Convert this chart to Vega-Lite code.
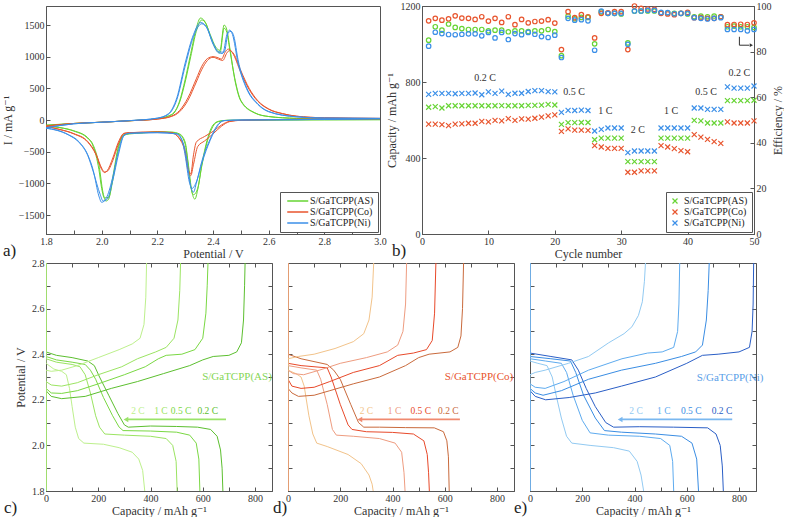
{
"$schema": "https://vega.github.io/schema/vega-lite/v6.json",
"background": "white",
"padding": {"left": 0, "top": 0, "right": 0, "bottom": 0},
"spacing": -3,
"config": {
 "font": "Liberation Serif, Times New Roman, DejaVu Serif, serif",
 "view": {"stroke": "#555", "strokeWidth": 1},
 "axis": {"labelFont": "Liberation Serif, Times New Roman, DejaVu Serif, serif", "titleFont": "Liberation Serif, Times New Roman, DejaVu Serif, serif", "labelFontSize": 10, "titleFontSize": 12, "titleFontWeight": "normal", "labelColor": "#333", "titleColor": "#333", "domainColor": "#555", "tickColor": "#555", "grid": false, "tickSize": -4, "labelPadding": 6, "labelFlush": false, "labelOverlap": false},
 "title": {"font": "Liberation Serif, Times New Roman, DejaVu Serif, serif", "fontSize": 17, "fontWeight": "normal", "color": "#222"},
 "legend": {"labelFont": "Liberation Serif, Times New Roman, DejaVu Serif, serif"},
 "text": {"font": "Liberation Serif, Times New Roman, DejaVu Serif, serif"}
},
"resolve": {"scale": {"color": "independent"}, "legend": {"color": "independent"}},
"datasets": {
 "cv": [
{"m":"AS","k":"1u","V":1.8,"I":-80},{"m":"AS","k":"1u","V":1.9,"I":-55},{"m":"AS","k":"1u","V":2.0,"I":-35},{"m":"AS","k":"1u","V":2.1,"I":-12},{"m":"AS","k":"1u","V":2.15,"I":0},{"m":"AS","k":"1u","V":2.2,"I":20},{"m":"AS","k":"1u","V":2.24,"I":60},{"m":"AS","k":"1u","V":2.26,"I":110},{"m":"AS","k":"1u","V":2.28,"I":300},{"m":"AS","k":"1u","V":2.3,"I":640},{"m":"AS","k":"1u","V":2.32,"I":1050},{"m":"AS","k":"1u","V":2.34,"I":1450},{"m":"AS","k":"1u","V":2.355,"I":1610},{"m":"AS","k":"1u","V":2.37,"I":1560},{"m":"AS","k":"1u","V":2.39,"I":1350},{"m":"AS","k":"1u","V":2.41,"I":1150},{"m":"AS","k":"1u","V":2.425,"I":1100},{"m":"AS","k":"1u","V":2.44,"I":1500},{"m":"AS","k":"1u","V":2.45,"I":1420},{"m":"AS","k":"1u","V":2.46,"I":1150},{"m":"AS","k":"1u","V":2.48,"I":600},{"m":"AS","k":"1u","V":2.5,"I":300},{"m":"AS","k":"1u","V":2.55,"I":110},{"m":"AS","k":"1u","V":2.6,"I":55},{"m":"AS","k":"1u","V":2.7,"I":25},{"m":"AS","k":"1u","V":2.8,"I":15},{"m":"AS","k":"1u","V":3.0,"I":10},
{"m":"AS","k":"1d","V":3.0,"I":5},{"m":"AS","k":"1d","V":2.8,"I":3},{"m":"AS","k":"1d","V":2.6,"I":0},{"m":"AS","k":"1d","V":2.45,"I":-5},{"m":"AS","k":"1d","V":2.42,"I":-20},{"m":"AS","k":"1d","V":2.4,"I":-80},{"m":"AS","k":"1d","V":2.38,"I":-300},{"m":"AS","k":"1d","V":2.36,"I":-700},{"m":"AS","k":"1d","V":2.345,"I":-1100},{"m":"AS","k":"1d","V":2.335,"I":-1250},{"m":"AS","k":"1d","V":2.325,"I":-1150},{"m":"AS","k":"1d","V":2.31,"I":-650},{"m":"AS","k":"1d","V":2.3,"I":-350},{"m":"AS","k":"1d","V":2.28,"I":-220},{"m":"AS","k":"1d","V":2.25,"I":-190},{"m":"AS","k":"1d","V":2.2,"I":-185},{"m":"AS","k":"1d","V":2.15,"I":-200},{"m":"AS","k":"1d","V":2.1,"I":-215},{"m":"AS","k":"1d","V":2.08,"I":-230},{"m":"AS","k":"1d","V":2.06,"I":-420},{"m":"AS","k":"1d","V":2.04,"I":-900},{"m":"AS","k":"1d","V":2.025,"I":-1250},{"m":"AS","k":"1d","V":2.015,"I":-1280},{"m":"AS","k":"1d","V":2.005,"I":-1150},{"m":"AS","k":"1d","V":1.99,"I":-700},{"m":"AS","k":"1d","V":1.97,"I":-400},{"m":"AS","k":"1d","V":1.95,"I":-280},{"m":"AS","k":"1d","V":1.9,"I":-170},{"m":"AS","k":"1d","V":1.85,"I":-120},{"m":"AS","k":"1d","V":1.8,"I":-90},
{"m":"AS","k":"2u","V":1.8,"I":-85},{"m":"AS","k":"2u","V":1.9,"I":-55},{"m":"AS","k":"2u","V":2.0,"I":-35},{"m":"AS","k":"2u","V":2.1,"I":-12},{"m":"AS","k":"2u","V":2.15,"I":0},{"m":"AS","k":"2u","V":2.2,"I":22},{"m":"AS","k":"2u","V":2.24,"I":65},{"m":"AS","k":"2u","V":2.26,"I":120},{"m":"AS","k":"2u","V":2.28,"I":280},{"m":"AS","k":"2u","V":2.3,"I":600},{"m":"AS","k":"2u","V":2.32,"I":1000},{"m":"AS","k":"2u","V":2.34,"I":1400},{"m":"AS","k":"2u","V":2.36,"I":1580},{"m":"AS","k":"2u","V":2.375,"I":1520},{"m":"AS","k":"2u","V":2.39,"I":1330},{"m":"AS","k":"2u","V":2.41,"I":1120},{"m":"AS","k":"2u","V":2.425,"I":1060},{"m":"AS","k":"2u","V":2.44,"I":1450},{"m":"AS","k":"2u","V":2.45,"I":1380},{"m":"AS","k":"2u","V":2.46,"I":1120},{"m":"AS","k":"2u","V":2.48,"I":620},{"m":"AS","k":"2u","V":2.5,"I":310},{"m":"AS","k":"2u","V":2.55,"I":115},{"m":"AS","k":"2u","V":2.6,"I":55},{"m":"AS","k":"2u","V":2.7,"I":25},{"m":"AS","k":"2u","V":2.8,"I":15},{"m":"AS","k":"2u","V":3.0,"I":10},
{"m":"AS","k":"2d","V":3.0,"I":5},{"m":"AS","k":"2d","V":2.8,"I":3},{"m":"AS","k":"2d","V":2.6,"I":0},{"m":"AS","k":"2d","V":2.45,"I":-5},{"m":"AS","k":"2d","V":2.42,"I":-25},{"m":"AS","k":"2d","V":2.4,"I":-100},{"m":"AS","k":"2d","V":2.38,"I":-330},{"m":"AS","k":"2d","V":2.36,"I":-720},{"m":"AS","k":"2d","V":2.345,"I":-1080},{"m":"AS","k":"2d","V":2.33,"I":-1180},{"m":"AS","k":"2d","V":2.32,"I":-1050},{"m":"AS","k":"2d","V":2.31,"I":-680},{"m":"AS","k":"2d","V":2.3,"I":-380},{"m":"AS","k":"2d","V":2.28,"I":-230},{"m":"AS","k":"2d","V":2.25,"I":-195},{"m":"AS","k":"2d","V":2.2,"I":-190},{"m":"AS","k":"2d","V":2.15,"I":-205},{"m":"AS","k":"2d","V":2.1,"I":-220},{"m":"AS","k":"2d","V":2.08,"I":-240},{"m":"AS","k":"2d","V":2.06,"I":-450},{"m":"AS","k":"2d","V":2.04,"I":-950},{"m":"AS","k":"2d","V":2.025,"I":-1220},{"m":"AS","k":"2d","V":2.01,"I":-1230},{"m":"AS","k":"2d","V":2.0,"I":-1080},{"m":"AS","k":"2d","V":1.99,"I":-780},{"m":"AS","k":"2d","V":1.97,"I":-420},{"m":"AS","k":"2d","V":1.95,"I":-290},{"m":"AS","k":"2d","V":1.9,"I":-175},{"m":"AS","k":"2d","V":1.85,"I":-120},{"m":"AS","k":"2d","V":1.8,"I":-90},
{"m":"Co","k":"1u","V":1.8,"I":-95},{"m":"Co","k":"1u","V":1.9,"I":-55},{"m":"Co","k":"1u","V":2.0,"I":-35},{"m":"Co","k":"1u","V":2.1,"I":-12},{"m":"Co","k":"1u","V":2.2,"I":15},{"m":"Co","k":"1u","V":2.25,"I":60},{"m":"Co","k":"1u","V":2.28,"I":150},{"m":"Co","k":"1u","V":2.31,"I":350},{"m":"Co","k":"1u","V":2.34,"I":650},{"m":"Co","k":"1u","V":2.36,"I":850},{"m":"Co","k":"1u","V":2.38,"I":970},{"m":"Co","k":"1u","V":2.4,"I":1000},{"m":"Co","k":"1u","V":2.42,"I":980},{"m":"Co","k":"1u","V":2.43,"I":960},{"m":"Co","k":"1u","V":2.445,"I":1080},{"m":"Co","k":"1u","V":2.455,"I":1120},{"m":"Co","k":"1u","V":2.47,"I":1060},{"m":"Co","k":"1u","V":2.5,"I":750},{"m":"Co","k":"1u","V":2.53,"I":480},{"m":"Co","k":"1u","V":2.56,"I":300},{"m":"Co","k":"1u","V":2.6,"I":170},{"m":"Co","k":"1u","V":2.65,"I":100},{"m":"Co","k":"1u","V":2.7,"I":60},{"m":"Co","k":"1u","V":2.8,"I":35},{"m":"Co","k":"1u","V":3.0,"I":25},
{"m":"Co","k":"1d","V":3.0,"I":20},{"m":"Co","k":"1d","V":2.6,"I":5},{"m":"Co","k":"1d","V":2.5,"I":-5},{"m":"Co","k":"1d","V":2.46,"I":-20},{"m":"Co","k":"1d","V":2.43,"I":-80},{"m":"Co","k":"1d","V":2.4,"I":-180},{"m":"Co","k":"1d","V":2.37,"I":-260},{"m":"Co","k":"1d","V":2.34,"I":-350},{"m":"Co","k":"1d","V":2.33,"I":-550},{"m":"Co","k":"1d","V":2.32,"I":-850},{"m":"Co","k":"1d","V":2.31,"I":-780},{"m":"Co","k":"1d","V":2.3,"I":-520},{"m":"Co","k":"1d","V":2.28,"I":-300},{"m":"Co","k":"1d","V":2.25,"I":-200},{"m":"Co","k":"1d","V":2.2,"I":-190},{"m":"Co","k":"1d","V":2.1,"I":-200},{"m":"Co","k":"1d","V":2.08,"I":-210},{"m":"Co","k":"1d","V":2.06,"I":-350},{"m":"Co","k":"1d","V":2.04,"I":-600},{"m":"Co","k":"1d","V":2.02,"I":-800},{"m":"Co","k":"1d","V":2.01,"I":-830},{"m":"Co","k":"1d","V":2.0,"I":-780},{"m":"Co","k":"1d","V":1.98,"I":-550},{"m":"Co","k":"1d","V":1.95,"I":-350},{"m":"Co","k":"1d","V":1.9,"I":-220},{"m":"Co","k":"1d","V":1.85,"I":-150},{"m":"Co","k":"1d","V":1.8,"I":-100},
{"m":"Co","k":"2u","V":1.8,"I":-95},{"m":"Co","k":"2u","V":1.9,"I":-55},{"m":"Co","k":"2u","V":2.0,"I":-35},{"m":"Co","k":"2u","V":2.1,"I":-12},{"m":"Co","k":"2u","V":2.2,"I":15},{"m":"Co","k":"2u","V":2.25,"I":55},{"m":"Co","k":"2u","V":2.28,"I":130},{"m":"Co","k":"2u","V":2.31,"I":310},{"m":"Co","k":"2u","V":2.34,"I":600},{"m":"Co","k":"2u","V":2.36,"I":800},{"m":"Co","k":"2u","V":2.38,"I":940},{"m":"Co","k":"2u","V":2.4,"I":990},{"m":"Co","k":"2u","V":2.42,"I":960},{"m":"Co","k":"2u","V":2.435,"I":940},{"m":"Co","k":"2u","V":2.45,"I":1060},{"m":"Co","k":"2u","V":2.46,"I":1100},{"m":"Co","k":"2u","V":2.475,"I":1040},{"m":"Co","k":"2u","V":2.5,"I":780},{"m":"Co","k":"2u","V":2.53,"I":500},{"m":"Co","k":"2u","V":2.56,"I":310},{"m":"Co","k":"2u","V":2.6,"I":175},{"m":"Co","k":"2u","V":2.65,"I":100},{"m":"Co","k":"2u","V":2.7,"I":60},{"m":"Co","k":"2u","V":2.8,"I":35},{"m":"Co","k":"2u","V":3.0,"I":25},
{"m":"Co","k":"2d","V":3.0,"I":20},{"m":"Co","k":"2d","V":2.6,"I":5},{"m":"Co","k":"2d","V":2.5,"I":-5},{"m":"Co","k":"2d","V":2.46,"I":-25},{"m":"Co","k":"2d","V":2.43,"I":-100},{"m":"Co","k":"2d","V":2.4,"I":-220},{"m":"Co","k":"2d","V":2.37,"I":-330},{"m":"Co","k":"2d","V":2.345,"I":-420},{"m":"Co","k":"2d","V":2.33,"I":-700},{"m":"Co","k":"2d","V":2.32,"I":-880},{"m":"Co","k":"2d","V":2.31,"I":-760},{"m":"Co","k":"2d","V":2.3,"I":-480},{"m":"Co","k":"2d","V":2.28,"I":-290},{"m":"Co","k":"2d","V":2.25,"I":-200},{"m":"Co","k":"2d","V":2.2,"I":-190},{"m":"Co","k":"2d","V":2.1,"I":-200},{"m":"Co","k":"2d","V":2.08,"I":-215},{"m":"Co","k":"2d","V":2.06,"I":-380},{"m":"Co","k":"2d","V":2.04,"I":-640},{"m":"Co","k":"2d","V":2.02,"I":-810},{"m":"Co","k":"2d","V":2.01,"I":-820},{"m":"Co","k":"2d","V":2.0,"I":-760},{"m":"Co","k":"2d","V":1.98,"I":-540},{"m":"Co","k":"2d","V":1.95,"I":-340},{"m":"Co","k":"2d","V":1.9,"I":-215},{"m":"Co","k":"2d","V":1.85,"I":-150},{"m":"Co","k":"2d","V":1.8,"I":-100},
{"m":"Ni","k":"1u","V":1.8,"I":-120},{"m":"Ni","k":"1u","V":1.9,"I":-60},{"m":"Ni","k":"1u","V":2.0,"I":-35},{"m":"Ni","k":"1u","V":2.1,"I":-10},{"m":"Ni","k":"1u","V":2.2,"I":30},{"m":"Ni","k":"1u","V":2.24,"I":100},{"m":"Ni","k":"1u","V":2.27,"I":350},{"m":"Ni","k":"1u","V":2.3,"I":900},{"m":"Ni","k":"1u","V":2.33,"I":1350},{"m":"Ni","k":"1u","V":2.355,"I":1540},{"m":"Ni","k":"1u","V":2.375,"I":1480},{"m":"Ni","k":"1u","V":2.4,"I":1200},{"m":"Ni","k":"1u","V":2.42,"I":1060},{"m":"Ni","k":"1u","V":2.435,"I":1050},{"m":"Ni","k":"1u","V":2.45,"I":1350},{"m":"Ni","k":"1u","V":2.46,"I":1420},{"m":"Ni","k":"1u","V":2.47,"I":1350},{"m":"Ni","k":"1u","V":2.49,"I":900},{"m":"Ni","k":"1u","V":2.52,"I":500},{"m":"Ni","k":"1u","V":2.56,"I":250},{"m":"Ni","k":"1u","V":2.6,"I":130},{"m":"Ni","k":"1u","V":2.7,"I":50},{"m":"Ni","k":"1u","V":2.8,"I":30},{"m":"Ni","k":"1u","V":3.0,"I":25},
{"m":"Ni","k":"1d","V":3.0,"I":20},{"m":"Ni","k":"1d","V":2.7,"I":5},{"m":"Ni","k":"1d","V":2.5,"I":0},{"m":"Ni","k":"1d","V":2.44,"I":-10},{"m":"Ni","k":"1d","V":2.42,"I":-60},{"m":"Ni","k":"1d","V":2.39,"I":-300},{"m":"Ni","k":"1d","V":2.36,"I":-650},{"m":"Ni","k":"1d","V":2.34,"I":-1000},{"m":"Ni","k":"1d","V":2.33,"I":-1140},{"m":"Ni","k":"1d","V":2.32,"I":-1050},{"m":"Ni","k":"1d","V":2.305,"I":-600},{"m":"Ni","k":"1d","V":2.29,"I":-330},{"m":"Ni","k":"1d","V":2.27,"I":-220},{"m":"Ni","k":"1d","V":2.2,"I":-200},{"m":"Ni","k":"1d","V":2.1,"I":-210},{"m":"Ni","k":"1d","V":2.08,"I":-240},{"m":"Ni","k":"1d","V":2.06,"I":-500},{"m":"Ni","k":"1d","V":2.04,"I":-900},{"m":"Ni","k":"1d","V":2.02,"I":-1200},{"m":"Ni","k":"1d","V":2.0,"I":-1300},{"m":"Ni","k":"1d","V":1.99,"I":-1200},{"m":"Ni","k":"1d","V":1.97,"I":-800},{"m":"Ni","k":"1d","V":1.95,"I":-550},{"m":"Ni","k":"1d","V":1.92,"I":-350},{"m":"Ni","k":"1d","V":1.88,"I":-230},{"m":"Ni","k":"1d","V":1.84,"I":-160},{"m":"Ni","k":"1d","V":1.8,"I":-130},
{"m":"Ni","k":"2u","V":1.8,"I":-125},{"m":"Ni","k":"2u","V":1.9,"I":-60},{"m":"Ni","k":"2u","V":2.0,"I":-35},{"m":"Ni","k":"2u","V":2.1,"I":-10},{"m":"Ni","k":"2u","V":2.2,"I":28},{"m":"Ni","k":"2u","V":2.24,"I":90},{"m":"Ni","k":"2u","V":2.27,"I":320},{"m":"Ni","k":"2u","V":2.3,"I":850},{"m":"Ni","k":"2u","V":2.33,"I":1320},{"m":"Ni","k":"2u","V":2.36,"I":1520},{"m":"Ni","k":"2u","V":2.38,"I":1440},{"m":"Ni","k":"2u","V":2.4,"I":1220},{"m":"Ni","k":"2u","V":2.42,"I":1080},{"m":"Ni","k":"2u","V":2.44,"I":1070},{"m":"Ni","k":"2u","V":2.455,"I":1380},{"m":"Ni","k":"2u","V":2.465,"I":1400},{"m":"Ni","k":"2u","V":2.475,"I":1320},{"m":"Ni","k":"2u","V":2.49,"I":950},{"m":"Ni","k":"2u","V":2.52,"I":520},{"m":"Ni","k":"2u","V":2.56,"I":260},{"m":"Ni","k":"2u","V":2.6,"I":135},{"m":"Ni","k":"2u","V":2.7,"I":50},{"m":"Ni","k":"2u","V":2.8,"I":30},{"m":"Ni","k":"2u","V":3.0,"I":25},
{"m":"Ni","k":"2d","V":3.0,"I":20},{"m":"Ni","k":"2d","V":2.7,"I":5},{"m":"Ni","k":"2d","V":2.5,"I":0},{"m":"Ni","k":"2d","V":2.44,"I":-10},{"m":"Ni","k":"2d","V":2.42,"I":-70},{"m":"Ni","k":"2d","V":2.39,"I":-320},{"m":"Ni","k":"2d","V":2.36,"I":-680},{"m":"Ni","k":"2d","V":2.34,"I":-980},{"m":"Ni","k":"2d","V":2.325,"I":-1080},{"m":"Ni","k":"2d","V":2.315,"I":-980},{"m":"Ni","k":"2d","V":2.3,"I":-560},{"m":"Ni","k":"2d","V":2.29,"I":-340},{"m":"Ni","k":"2d","V":2.27,"I":-220},{"m":"Ni","k":"2d","V":2.2,"I":-200},{"m":"Ni","k":"2d","V":2.1,"I":-210},{"m":"Ni","k":"2d","V":2.08,"I":-250},{"m":"Ni","k":"2d","V":2.06,"I":-550},{"m":"Ni","k":"2d","V":2.04,"I":-950},{"m":"Ni","k":"2d","V":2.02,"I":-1250},{"m":"Ni","k":"2d","V":2.005,"I":-1280},{"m":"Ni","k":"2d","V":1.995,"I":-1180},{"m":"Ni","k":"2d","V":1.97,"I":-820},{"m":"Ni","k":"2d","V":1.95,"I":-560},{"m":"Ni","k":"2d","V":1.92,"I":-360},{"m":"Ni","k":"2d","V":1.88,"I":-235},{"m":"Ni","k":"2d","V":1.84,"I":-165},{"m":"Ni","k":"2d","V":1.8,"I":-130}
 ],
 "rc": [
{"c":1,"m":"AS","cap":667,"eff":85},{"c":2,"m":"AS","cap":670,"eff":90.9},{"c":3,"m":"AS","cap":663,"eff":89.4},{"c":4,"m":"AS","cap":675,"eff":92.1},{"c":5,"m":"AS","cap":675,"eff":90.6},{"c":6,"m":"AS","cap":675,"eff":90.1},{"c":7,"m":"AS","cap":675,"eff":89.7},{"c":8,"m":"AS","cap":675,"eff":89.7},{"c":9,"m":"AS","cap":675,"eff":89.7},{"c":10,"m":"AS","cap":675,"eff":89.1},
{"c":11,"m":"AS","cap":675,"eff":89.4},{"c":12,"m":"AS","cap":676,"eff":89.4},{"c":13,"m":"AS","cap":675,"eff":88.7},{"c":14,"m":"AS","cap":675,"eff":89.1},{"c":15,"m":"AS","cap":675,"eff":89.1},{"c":16,"m":"AS","cap":677,"eff":88.8},{"c":17,"m":"AS","cap":677,"eff":89.1},{"c":18,"m":"AS","cap":678,"eff":89.1},{"c":19,"m":"AS","cap":682,"eff":89.7},{"c":20,"m":"AS","cap":679,"eff":88.8},
{"c":21,"m":"AS","cap":577,"eff":78.2},{"c":22,"m":"AS","cap":586,"eff":95.6},{"c":23,"m":"AS","cap":586,"eff":94.4},{"c":24,"m":"AS","cap":587,"eff":95},{"c":25,"m":"AS","cap":587,"eff":95},{"c":26,"m":"AS","cap":496,"eff":83.4},{"c":27,"m":"AS","cap":505,"eff":97.4},{"c":28,"m":"AS","cap":505,"eff":96.8},{"c":29,"m":"AS","cap":505,"eff":96.8},{"c":30,"m":"AS","cap":505,"eff":96.5},
{"c":31,"m":"AS","cap":381,"eff":83.8},{"c":32,"m":"AS","cap":381,"eff":97.8},{"c":33,"m":"AS","cap":381,"eff":97.8},{"c":34,"m":"AS","cap":381,"eff":97.8},{"c":35,"m":"AS","cap":381,"eff":97.8},{"c":36,"m":"AS","cap":505,"eff":97},{"c":37,"m":"AS","cap":505,"eff":97},{"c":38,"m":"AS","cap":505,"eff":96.8},{"c":39,"m":"AS","cap":505,"eff":96.8},{"c":40,"m":"AS","cap":505,"eff":96.5},
{"c":41,"m":"AS","cap":598,"eff":95.3},{"c":42,"m":"AS","cap":595,"eff":95.6},{"c":43,"m":"AS","cap":584,"eff":95.3},{"c":44,"m":"AS","cap":584,"eff":95.6},{"c":45,"m":"AS","cap":584,"eff":95.3},{"c":46,"m":"AS","cap":702,"eff":90.9},{"c":47,"m":"AS","cap":702,"eff":91.2},{"c":48,"m":"AS","cap":702,"eff":90.9},{"c":49,"m":"AS","cap":702,"eff":90.9},{"c":50,"m":"AS","cap":704,"eff":90.6},
{"c":1,"m":"Co","cap":578,"eff":93.5},{"c":2,"m":"Co","cap":578,"eff":94.6},{"c":3,"m":"Co","cap":576,"eff":93.8},{"c":4,"m":"Co","cap":570,"eff":94.4},{"c":5,"m":"Co","cap":578,"eff":95.7},{"c":6,"m":"Co","cap":580,"eff":94.7},{"c":7,"m":"Co","cap":583,"eff":94.6},{"c":8,"m":"Co","cap":583,"eff":94.1},{"c":9,"m":"Co","cap":593,"eff":95.3},{"c":10,"m":"Co","cap":590,"eff":93.4},
{"c":11,"m":"Co","cap":598,"eff":94.6},{"c":12,"m":"Co","cap":595,"eff":92.8},{"c":13,"m":"Co","cap":607,"eff":95.3},{"c":14,"m":"Co","cap":598,"eff":91.8},{"c":15,"m":"Co","cap":606,"eff":94.1},{"c":16,"m":"Co","cap":605,"eff":92.6},{"c":17,"m":"Co","cap":609,"eff":93.2},{"c":18,"m":"Co","cap":615,"eff":93.4},{"c":19,"m":"Co","cap":622,"eff":94},{"c":20,"m":"Co","cap":627,"eff":92.5},
{"c":21,"m":"Co","cap":540,"eff":80.9},{"c":22,"m":"Co","cap":553,"eff":97.5},{"c":23,"m":"Co","cap":547,"eff":94.9},{"c":24,"m":"Co","cap":547,"eff":96.2},{"c":25,"m":"Co","cap":545,"eff":95.3},{"c":26,"m":"Co","cap":465,"eff":86},{"c":27,"m":"Co","cap":458,"eff":96.8},{"c":28,"m":"Co","cap":451,"eff":97},{"c":29,"m":"Co","cap":451,"eff":97.5},{"c":30,"m":"Co","cap":451,"eff":97.5},
{"c":31,"m":"Co","cap":325,"eff":80.9},{"c":32,"m":"Co","cap":325,"eff":100},{"c":33,"m":"Co","cap":332,"eff":99},{"c":34,"m":"Co","cap":332,"eff":98.7},{"c":35,"m":"Co","cap":332,"eff":98.5},{"c":36,"m":"Co","cap":465,"eff":96.8},{"c":37,"m":"Co","cap":458,"eff":96.5},{"c":38,"m":"Co","cap":449,"eff":96.2},{"c":39,"m":"Co","cap":439,"eff":96.8},{"c":40,"m":"Co","cap":433,"eff":97.2},
{"c":41,"m":"Co","cap":523,"eff":94.9},{"c":42,"m":"Co","cap":510,"eff":94.9},{"c":43,"m":"Co","cap":498,"eff":94.6},{"c":44,"m":"Co","cap":486,"eff":94.6},{"c":45,"m":"Co","cap":477,"eff":95.3},{"c":46,"m":"Co","cap":590,"eff":91.8},{"c":47,"m":"Co","cap":584,"eff":91.9},{"c":48,"m":"Co","cap":584,"eff":92},{"c":49,"m":"Co","cap":584,"eff":91.9},{"c":50,"m":"Co","cap":595,"eff":92.6},
{"c":1,"m":"Ni","cap":735,"eff":82.4},{"c":2,"m":"Ni","cap":740,"eff":88.5},{"c":3,"m":"Ni","cap":740,"eff":87.9},{"c":4,"m":"Ni","cap":740,"eff":87.5},{"c":5,"m":"Ni","cap":738,"eff":87.4},{"c":6,"m":"Ni","cap":740,"eff":87.6},{"c":7,"m":"Ni","cap":740,"eff":87.8},{"c":8,"m":"Ni","cap":742,"eff":87.8},{"c":9,"m":"Ni","cap":733,"eff":86.9},{"c":10,"m":"Ni","cap":748,"eff":88.4},
{"c":11,"m":"Ni","cap":740,"eff":86},{"c":12,"m":"Ni","cap":752,"eff":88.4},{"c":13,"m":"Ni","cap":735,"eff":85.3},{"c":14,"m":"Ni","cap":741,"eff":87.9},{"c":15,"m":"Ni","cap":741,"eff":87.4},{"c":16,"m":"Ni","cap":750,"eff":88.4},{"c":17,"m":"Ni","cap":755,"eff":87.6},{"c":18,"m":"Ni","cap":755,"eff":86.6},{"c":19,"m":"Ni","cap":749,"eff":86.2},{"c":20,"m":"Ni","cap":748,"eff":87.2},
{"c":21,"m":"Ni","cap":640,"eff":77.4},{"c":22,"m":"Ni","cap":651,"eff":94.6},{"c":23,"m":"Ni","cap":650,"eff":93.8},{"c":24,"m":"Ni","cap":652,"eff":94},{"c":25,"m":"Ni","cap":650,"eff":93.5},{"c":26,"m":"Ni","cap":542,"eff":80.6},{"c":27,"m":"Ni","cap":551,"eff":97.8},{"c":28,"m":"Ni","cap":558,"eff":96.8},{"c":29,"m":"Ni","cap":558,"eff":96.8},{"c":30,"m":"Ni","cap":558,"eff":96.8},
{"c":31,"m":"Ni","cap":428,"eff":83.2},{"c":32,"m":"Ni","cap":437,"eff":97.8},{"c":33,"m":"Ni","cap":437,"eff":97.8},{"c":34,"m":"Ni","cap":437,"eff":98.1},{"c":35,"m":"Ni","cap":437,"eff":98.1},{"c":36,"m":"Ni","cap":558,"eff":97.2},{"c":37,"m":"Ni","cap":558,"eff":97.1},{"c":38,"m":"Ni","cap":558,"eff":96.6},{"c":39,"m":"Ni","cap":558,"eff":96.8},{"c":40,"m":"Ni","cap":558,"eff":96.8},
{"c":41,"m":"Ni","cap":663,"eff":94.9},{"c":42,"m":"Ni","cap":663,"eff":94.6},{"c":43,"m":"Ni","cap":656,"eff":94.3},{"c":44,"m":"Ni","cap":656,"eff":94.6},{"c":45,"m":"Ni","cap":656,"eff":94.9},{"c":46,"m":"Ni","cap":774,"eff":89.7},{"c":47,"m":"Ni","cap":768,"eff":89.7},{"c":48,"m":"Ni","cap":768,"eff":89.7},{"c":49,"m":"Ni","cap":768,"eff":89.1},{"c":50,"m":"Ni","cap":779,"eff":89.7}
 ],
 "rclab": [
{"c":9.5,"cap":820,"t":"0.2 C"},{"c":22.9,"cap":750,"t":"0.5 C"},{"c":27.6,"cap":650,"t":"1 C"},{"c":32.5,"cap":550,"t":"2 C"},{"c":37.5,"cap":650,"t":"1 C"},{"c":42.8,"cap":750,"t":"0.5 C"},{"c":47.8,"cap":845,"t":"0.2 C"}
 ],
 "rcarr": [
{"i":1,"c":47.8,"eff":86.5},{"i":2,"c":47.8,"eff":82.8},{"i":3,"c":49.3,"eff":82.8}
 ],
 "rchead": [{"c":49.6,"eff":82.8}],
 "gcd": [
{"m":"AS","r":"0.2 C","b":"d","q":0,"v":2.8},{"m":"AS","r":"0.2 C","b":"d","q":0,"v":2.41},{"m":"AS","r":"0.2 C","b":"d","q":40,"v":2.395},{"m":"AS","r":"0.2 C","b":"d","q":100,"v":2.385},{"m":"AS","r":"0.2 C","b":"d","q":160,"v":2.37},{"m":"AS","r":"0.2 C","b":"d","q":185,"v":2.35},{"m":"AS","r":"0.2 C","b":"d","q":205,"v":2.3},{"m":"AS","r":"0.2 C","b":"d","q":240,"v":2.22},{"m":"AS","r":"0.2 C","b":"d","q":275,"v":2.14},{"m":"AS","r":"0.2 C","b":"d","q":300,"v":2.09},{"m":"AS","r":"0.2 C","b":"d","q":315,"v":2.08},{"m":"AS","r":"0.2 C","b":"d","q":400,"v":2.085},{"m":"AS","r":"0.2 C","b":"d","q":500,"v":2.083},{"m":"AS","r":"0.2 C","b":"d","q":580,"v":2.08},{"m":"AS","r":"0.2 C","b":"d","q":630,"v":2.07},{"m":"AS","r":"0.2 C","b":"d","q":655,"v":2.04},{"m":"AS","r":"0.2 C","b":"d","q":668,"v":1.98},{"m":"AS","r":"0.2 C","b":"d","q":674,"v":1.9},{"m":"AS","r":"0.2 C","b":"d","q":677,"v":1.8},
{"m":"AS","r":"0.5 C","b":"d","q":0,"v":2.8},{"m":"AS","r":"0.5 C","b":"d","q":0,"v":2.39},{"m":"AS","r":"0.5 C","b":"d","q":40,"v":2.375},{"m":"AS","r":"0.5 C","b":"d","q":100,"v":2.365},{"m":"AS","r":"0.5 C","b":"d","q":150,"v":2.355},{"m":"AS","r":"0.5 C","b":"d","q":170,"v":2.33},{"m":"AS","r":"0.5 C","b":"d","q":190,"v":2.29},{"m":"AS","r":"0.5 C","b":"d","q":220,"v":2.21},{"m":"AS","r":"0.5 C","b":"d","q":255,"v":2.13},{"m":"AS","r":"0.5 C","b":"d","q":280,"v":2.08},{"m":"AS","r":"0.5 C","b":"d","q":295,"v":2.065},{"m":"AS","r":"0.5 C","b":"d","q":400,"v":2.063},{"m":"AS","r":"0.5 C","b":"d","q":500,"v":2.058},{"m":"AS","r":"0.5 C","b":"d","q":550,"v":2.045},{"m":"AS","r":"0.5 C","b":"d","q":575,"v":2.01},{"m":"AS","r":"0.5 C","b":"d","q":585,"v":1.94},{"m":"AS","r":"0.5 C","b":"d","q":589,"v":1.8},
{"m":"AS","r":"1 C","b":"d","q":0,"v":2.8},{"m":"AS","r":"1 C","b":"d","q":0,"v":2.38},{"m":"AS","r":"1 C","b":"d","q":40,"v":2.365},{"m":"AS","r":"1 C","b":"d","q":100,"v":2.355},{"m":"AS","r":"1 C","b":"d","q":130,"v":2.345},{"m":"AS","r":"1 C","b":"d","q":150,"v":2.31},{"m":"AS","r":"1 C","b":"d","q":170,"v":2.23},{"m":"AS","r":"1 C","b":"d","q":190,"v":2.13},{"m":"AS","r":"1 C","b":"d","q":205,"v":2.08},{"m":"AS","r":"1 C","b":"d","q":225,"v":2.05},{"m":"AS","r":"1 C","b":"d","q":300,"v":2.045},{"m":"AS","r":"1 C","b":"d","q":400,"v":2.04},{"m":"AS","r":"1 C","b":"d","q":460,"v":2.03},{"m":"AS","r":"1 C","b":"d","q":485,"v":2.0},{"m":"AS","r":"1 C","b":"d","q":498,"v":1.93},{"m":"AS","r":"1 C","b":"d","q":502,"v":1.8},
{"m":"AS","r":"2 C","b":"d","q":0,"v":2.8},{"m":"AS","r":"2 C","b":"d","q":0,"v":2.36},{"m":"AS","r":"2 C","b":"d","q":30,"v":2.335},{"m":"AS","r":"2 C","b":"d","q":60,"v":2.325},{"m":"AS","r":"2 C","b":"d","q":78,"v":2.31},{"m":"AS","r":"2 C","b":"d","q":90,"v":2.25},{"m":"AS","r":"2 C","b":"d","q":100,"v":2.17},{"m":"AS","r":"2 C","b":"d","q":112,"v":2.08},{"m":"AS","r":"2 C","b":"d","q":125,"v":2.03},{"m":"AS","r":"2 C","b":"d","q":145,"v":2.01},{"m":"AS","r":"2 C","b":"d","q":220,"v":2.005},{"m":"AS","r":"2 C","b":"d","q":280,"v":1.99},{"m":"AS","r":"2 C","b":"d","q":330,"v":1.97},{"m":"AS","r":"2 C","b":"d","q":355,"v":1.94},{"m":"AS","r":"2 C","b":"d","q":370,"v":1.89},{"m":"AS","r":"2 C","b":"d","q":378,"v":1.8},
{"m":"AS","r":"0.2 C","b":"c","q":0,"v":1.8},{"m":"AS","r":"0.2 C","b":"c","q":0,"v":2.24},{"m":"AS","r":"0.2 C","b":"c","q":20,"v":2.215},{"m":"AS","r":"0.2 C","b":"c","q":60,"v":2.205},{"m":"AS","r":"0.2 C","b":"c","q":150,"v":2.215},{"m":"AS","r":"0.2 C","b":"c","q":250,"v":2.25},{"m":"AS","r":"0.2 C","b":"c","q":350,"v":2.28},{"m":"AS","r":"0.2 C","b":"c","q":450,"v":2.315},{"m":"AS","r":"0.2 C","b":"c","q":550,"v":2.35},{"m":"AS","r":"0.2 C","b":"c","q":600,"v":2.375},{"m":"AS","r":"0.2 C","b":"c","q":640,"v":2.39},{"m":"AS","r":"0.2 C","b":"c","q":700,"v":2.395},{"m":"AS","r":"0.2 C","b":"c","q":730,"v":2.41},{"m":"AS","r":"0.2 C","b":"c","q":748,"v":2.45},{"m":"AS","r":"0.2 C","b":"c","q":756,"v":2.55},{"m":"AS","r":"0.2 C","b":"c","q":760,"v":2.7},{"m":"AS","r":"0.2 C","b":"c","q":762,"v":2.8},
{"m":"AS","r":"0.5 C","b":"c","q":0,"v":1.8},{"m":"AS","r":"0.5 C","b":"c","q":0,"v":2.25},{"m":"AS","r":"0.5 C","b":"c","q":20,"v":2.23},{"m":"AS","r":"0.5 C","b":"c","q":60,"v":2.228},{"m":"AS","r":"0.5 C","b":"c","q":120,"v":2.24},{"m":"AS","r":"0.5 C","b":"c","q":200,"v":2.27},{"m":"AS","r":"0.5 C","b":"c","q":300,"v":2.31},{"m":"AS","r":"0.5 C","b":"c","q":380,"v":2.345},{"m":"AS","r":"0.5 C","b":"c","q":430,"v":2.38},{"m":"AS","r":"0.5 C","b":"c","q":460,"v":2.395},{"m":"AS","r":"0.5 C","b":"c","q":520,"v":2.4},{"m":"AS","r":"0.5 C","b":"c","q":570,"v":2.42},{"m":"AS","r":"0.5 C","b":"c","q":600,"v":2.47},{"m":"AS","r":"0.5 C","b":"c","q":612,"v":2.58},{"m":"AS","r":"0.5 C","b":"c","q":617,"v":2.7},{"m":"AS","r":"0.5 C","b":"c","q":620,"v":2.8},
{"m":"AS","r":"1 C","b":"c","q":0,"v":1.8},{"m":"AS","r":"1 C","b":"c","q":0,"v":2.28},{"m":"AS","r":"1 C","b":"c","q":20,"v":2.265},{"m":"AS","r":"1 C","b":"c","q":60,"v":2.26},{"m":"AS","r":"1 C","b":"c","q":120,"v":2.275},{"m":"AS","r":"1 C","b":"c","q":200,"v":2.31},{"m":"AS","r":"1 C","b":"c","q":290,"v":2.345},{"m":"AS","r":"1 C","b":"c","q":350,"v":2.38},{"m":"AS","r":"1 C","b":"c","q":420,"v":2.41},{"m":"AS","r":"1 C","b":"c","q":460,"v":2.43},{"m":"AS","r":"1 C","b":"c","q":490,"v":2.47},{"m":"AS","r":"1 C","b":"c","q":505,"v":2.55},{"m":"AS","r":"1 C","b":"c","q":512,"v":2.68},{"m":"AS","r":"1 C","b":"c","q":515,"v":2.8},
{"m":"AS","r":"2 C","b":"c","q":0,"v":1.8},{"m":"AS","r":"2 C","b":"c","q":0,"v":2.33},{"m":"AS","r":"2 C","b":"c","q":20,"v":2.325},{"m":"AS","r":"2 C","b":"c","q":60,"v":2.33},{"m":"AS","r":"2 C","b":"c","q":120,"v":2.35},{"m":"AS","r":"2 C","b":"c","q":200,"v":2.385},{"m":"AS","r":"2 C","b":"c","q":280,"v":2.42},{"m":"AS","r":"2 C","b":"c","q":330,"v":2.445},{"m":"AS","r":"2 C","b":"c","q":360,"v":2.47},{"m":"AS","r":"2 C","b":"c","q":375,"v":2.53},{"m":"AS","r":"2 C","b":"c","q":382,"v":2.65},{"m":"AS","r":"2 C","b":"c","q":385,"v":2.8},
{"m":"Co","r":"0.2 C","b":"d","q":0,"v":2.8},{"m":"Co","r":"0.2 C","b":"d","q":0,"v":2.4},{"m":"Co","r":"0.2 C","b":"d","q":50,"v":2.38},{"m":"Co","r":"0.2 C","b":"d","q":150,"v":2.355},{"m":"Co","r":"0.2 C","b":"d","q":175,"v":2.33},{"m":"Co","r":"0.2 C","b":"d","q":200,"v":2.29},{"m":"Co","r":"0.2 C","b":"d","q":240,"v":2.18},{"m":"Co","r":"0.2 C","b":"d","q":270,"v":2.1},{"m":"Co","r":"0.2 C","b":"d","q":290,"v":2.08},{"m":"Co","r":"0.2 C","b":"d","q":350,"v":2.08},{"m":"Co","r":"0.2 C","b":"d","q":450,"v":2.078},{"m":"Co","r":"0.2 C","b":"d","q":560,"v":2.077},{"m":"Co","r":"0.2 C","b":"d","q":595,"v":2.06},{"m":"Co","r":"0.2 C","b":"d","q":608,"v":2.02},{"m":"Co","r":"0.2 C","b":"d","q":614,"v":1.95},{"m":"Co","r":"0.2 C","b":"d","q":617,"v":1.8},
{"m":"Co","r":"0.5 C","b":"d","q":0,"v":2.8},{"m":"Co","r":"0.5 C","b":"d","q":0,"v":2.36},{"m":"Co","r":"0.5 C","b":"d","q":50,"v":2.35},{"m":"Co","r":"0.5 C","b":"d","q":150,"v":2.34},{"m":"Co","r":"0.5 C","b":"d","q":165,"v":2.3},{"m":"Co","r":"0.5 C","b":"d","q":200,"v":2.18},{"m":"Co","r":"0.5 C","b":"d","q":230,"v":2.09},{"m":"Co","r":"0.5 C","b":"d","q":245,"v":2.07},{"m":"Co","r":"0.5 C","b":"d","q":300,"v":2.06},{"m":"Co","r":"0.5 C","b":"d","q":400,"v":2.057},{"m":"Co","r":"0.5 C","b":"d","q":480,"v":2.05},{"m":"Co","r":"0.5 C","b":"d","q":520,"v":2.02},{"m":"Co","r":"0.5 C","b":"d","q":533,"v":1.96},{"m":"Co","r":"0.5 C","b":"d","q":538,"v":1.88},{"m":"Co","r":"0.5 C","b":"d","q":541,"v":1.8},
{"m":"Co","r":"1 C","b":"d","q":0,"v":2.8},{"m":"Co","r":"1 C","b":"d","q":0,"v":2.35},{"m":"Co","r":"1 C","b":"d","q":50,"v":2.34},{"m":"Co","r":"1 C","b":"d","q":110,"v":2.33},{"m":"Co","r":"1 C","b":"d","q":125,"v":2.29},{"m":"Co","r":"1 C","b":"d","q":150,"v":2.18},{"m":"Co","r":"1 C","b":"d","q":170,"v":2.07},{"m":"Co","r":"1 C","b":"d","q":185,"v":2.045},{"m":"Co","r":"1 C","b":"d","q":250,"v":2.04},{"m":"Co","r":"1 C","b":"d","q":350,"v":2.03},{"m":"Co","r":"1 C","b":"d","q":410,"v":2.01},{"m":"Co","r":"1 C","b":"d","q":435,"v":1.97},{"m":"Co","r":"1 C","b":"d","q":444,"v":1.88},{"m":"Co","r":"1 C","b":"d","q":448,"v":1.8},
{"m":"Co","r":"2 C","b":"d","q":0,"v":2.8},{"m":"Co","r":"2 C","b":"d","q":0,"v":2.33},{"m":"Co","r":"2 C","b":"d","q":30,"v":2.315},{"m":"Co","r":"2 C","b":"d","q":50,"v":2.3},{"m":"Co","r":"2 C","b":"d","q":62,"v":2.26},{"m":"Co","r":"2 C","b":"d","q":80,"v":2.13},{"m":"Co","r":"2 C","b":"d","q":95,"v":2.05},{"m":"Co","r":"2 C","b":"d","q":110,"v":2.01},{"m":"Co","r":"2 C","b":"d","q":150,"v":1.995},{"m":"Co","r":"2 C","b":"d","q":230,"v":1.96},{"m":"Co","r":"2 C","b":"d","q":280,"v":1.92},{"m":"Co","r":"2 C","b":"d","q":310,"v":1.87},{"m":"Co","r":"2 C","b":"d","q":322,"v":1.83},{"m":"Co","r":"2 C","b":"d","q":326,"v":1.8},
{"m":"Co","r":"0.2 C","b":"c","q":0,"v":1.8},{"m":"Co","r":"0.2 C","b":"c","q":0,"v":2.25},{"m":"Co","r":"0.2 C","b":"c","q":15,"v":2.23},{"m":"Co","r":"0.2 C","b":"c","q":40,"v":2.215},{"m":"Co","r":"0.2 C","b":"c","q":100,"v":2.22},{"m":"Co","r":"0.2 C","b":"c","q":160,"v":2.24},{"m":"Co","r":"0.2 C","b":"c","q":250,"v":2.27},{"m":"Co","r":"0.2 C","b":"c","q":350,"v":2.3},{"m":"Co","r":"0.2 C","b":"c","q":450,"v":2.35},{"m":"Co","r":"0.2 C","b":"c","q":500,"v":2.385},{"m":"Co","r":"0.2 C","b":"c","q":540,"v":2.4},{"m":"Co","r":"0.2 C","b":"c","q":620,"v":2.41},{"m":"Co","r":"0.2 C","b":"c","q":650,"v":2.43},{"m":"Co","r":"0.2 C","b":"c","q":662,"v":2.48},{"m":"Co","r":"0.2 C","b":"c","q":668,"v":2.6},{"m":"Co","r":"0.2 C","b":"c","q":672,"v":2.8},
{"m":"Co","r":"0.5 C","b":"c","q":0,"v":1.8},{"m":"Co","r":"0.5 C","b":"c","q":0,"v":2.29},{"m":"Co","r":"0.5 C","b":"c","q":15,"v":2.26},{"m":"Co","r":"0.5 C","b":"c","q":50,"v":2.25},{"m":"Co","r":"0.5 C","b":"c","q":100,"v":2.255},{"m":"Co","r":"0.5 C","b":"c","q":160,"v":2.28},{"m":"Co","r":"0.5 C","b":"c","q":250,"v":2.32},{"m":"Co","r":"0.5 C","b":"c","q":350,"v":2.35},{"m":"Co","r":"0.5 C","b":"c","q":420,"v":2.395},{"m":"Co","r":"0.5 C","b":"c","q":480,"v":2.405},{"m":"Co","r":"0.5 C","b":"c","q":530,"v":2.42},{"m":"Co","r":"0.5 C","b":"c","q":552,"v":2.46},{"m":"Co","r":"0.5 C","b":"c","q":561,"v":2.58},{"m":"Co","r":"0.5 C","b":"c","q":566,"v":2.8},
{"m":"Co","r":"1 C","b":"c","q":0,"v":1.8},{"m":"Co","r":"1 C","b":"c","q":0,"v":2.33},{"m":"Co","r":"1 C","b":"c","q":20,"v":2.315},{"m":"Co","r":"1 C","b":"c","q":60,"v":2.31},{"m":"Co","r":"1 C","b":"c","q":120,"v":2.33},{"m":"Co","r":"1 C","b":"c","q":200,"v":2.36},{"m":"Co","r":"1 C","b":"c","q":300,"v":2.385},{"m":"Co","r":"1 C","b":"c","q":380,"v":2.41},{"m":"Co","r":"1 C","b":"c","q":420,"v":2.44},{"m":"Co","r":"1 C","b":"c","q":440,"v":2.5},{"m":"Co","r":"1 C","b":"c","q":450,"v":2.62},{"m":"Co","r":"1 C","b":"c","q":454,"v":2.8},
{"m":"Co","r":"2 C","b":"c","q":0,"v":1.8},{"m":"Co","r":"2 C","b":"c","q":0,"v":2.38},{"m":"Co","r":"2 C","b":"c","q":40,"v":2.39},{"m":"Co","r":"2 C","b":"c","q":100,"v":2.4},{"m":"Co","r":"2 C","b":"c","q":180,"v":2.425},{"m":"Co","r":"2 C","b":"c","q":250,"v":2.455},{"m":"Co","r":"2 C","b":"c","q":290,"v":2.49},{"m":"Co","r":"2 C","b":"c","q":310,"v":2.55},{"m":"Co","r":"2 C","b":"c","q":322,"v":2.65},{"m":"Co","r":"2 C","b":"c","q":328,"v":2.8},
{"m":"Ni","r":"0.2 C","b":"d","q":0,"v":2.8},{"m":"Ni","r":"0.2 C","b":"d","q":0,"v":2.405},{"m":"Ni","r":"0.2 C","b":"d","q":80,"v":2.39},{"m":"Ni","r":"0.2 C","b":"d","q":160,"v":2.375},{"m":"Ni","r":"0.2 C","b":"d","q":185,"v":2.33},{"m":"Ni","r":"0.2 C","b":"d","q":215,"v":2.25},{"m":"Ni","r":"0.2 C","b":"d","q":250,"v":2.17},{"m":"Ni","r":"0.2 C","b":"d","q":290,"v":2.1},{"m":"Ni","r":"0.2 C","b":"d","q":320,"v":2.08},{"m":"Ni","r":"0.2 C","b":"d","q":420,"v":2.082},{"m":"Ni","r":"0.2 C","b":"d","q":550,"v":2.08},{"m":"Ni","r":"0.2 C","b":"d","q":680,"v":2.077},{"m":"Ni","r":"0.2 C","b":"d","q":712,"v":2.05},{"m":"Ni","r":"0.2 C","b":"d","q":728,"v":2.0},{"m":"Ni","r":"0.2 C","b":"d","q":736,"v":1.91},{"m":"Ni","r":"0.2 C","b":"d","q":740,"v":1.8},
{"m":"Ni","r":"0.5 C","b":"d","q":0,"v":2.8},{"m":"Ni","r":"0.5 C","b":"d","q":0,"v":2.39},{"m":"Ni","r":"0.5 C","b":"d","q":80,"v":2.38},{"m":"Ni","r":"0.5 C","b":"d","q":155,"v":2.37},{"m":"Ni","r":"0.5 C","b":"d","q":175,"v":2.32},{"m":"Ni","r":"0.5 C","b":"d","q":205,"v":2.22},{"m":"Ni","r":"0.5 C","b":"d","q":250,"v":2.12},{"m":"Ni","r":"0.5 C","b":"d","q":285,"v":2.065},{"m":"Ni","r":"0.5 C","b":"d","q":350,"v":2.058},{"m":"Ni","r":"0.5 C","b":"d","q":480,"v":2.05},{"m":"Ni","r":"0.5 C","b":"d","q":580,"v":2.04},{"m":"Ni","r":"0.5 C","b":"d","q":620,"v":2.01},{"m":"Ni","r":"0.5 C","b":"d","q":638,"v":1.94},{"m":"Ni","r":"0.5 C","b":"d","q":645,"v":1.8},
{"m":"Ni","r":"1 C","b":"d","q":0,"v":2.8},{"m":"Ni","r":"1 C","b":"d","q":0,"v":2.38},{"m":"Ni","r":"1 C","b":"d","q":60,"v":2.37},{"m":"Ni","r":"1 C","b":"d","q":120,"v":2.36},{"m":"Ni","r":"1 C","b":"d","q":140,"v":2.32},{"m":"Ni","r":"1 C","b":"d","q":165,"v":2.22},{"m":"Ni","r":"1 C","b":"d","q":200,"v":2.11},{"m":"Ni","r":"1 C","b":"d","q":230,"v":2.055},{"m":"Ni","r":"1 C","b":"d","q":300,"v":2.045},{"m":"Ni","r":"1 C","b":"d","q":420,"v":2.04},{"m":"Ni","r":"1 C","b":"d","q":500,"v":2.03},{"m":"Ni","r":"1 C","b":"d","q":535,"v":2.0},{"m":"Ni","r":"1 C","b":"d","q":546,"v":1.93},{"m":"Ni","r":"1 C","b":"d","q":550,"v":1.8},
{"m":"Ni","r":"2 C","b":"d","q":0,"v":2.8},{"m":"Ni","r":"2 C","b":"d","q":0,"v":2.37},{"m":"Ni","r":"2 C","b":"d","q":30,"v":2.36},{"m":"Ni","r":"2 C","b":"d","q":65,"v":2.35},{"m":"Ni","r":"2 C","b":"d","q":85,"v":2.3},{"m":"Ni","r":"2 C","b":"d","q":100,"v":2.22},{"m":"Ni","r":"2 C","b":"d","q":120,"v":2.12},{"m":"Ni","r":"2 C","b":"d","q":140,"v":2.04},{"m":"Ni","r":"2 C","b":"d","q":160,"v":2.01},{"m":"Ni","r":"2 C","b":"d","q":230,"v":2.0},{"m":"Ni","r":"2 C","b":"d","q":320,"v":1.99},{"m":"Ni","r":"2 C","b":"d","q":380,"v":1.975},{"m":"Ni","r":"2 C","b":"d","q":410,"v":1.93},{"m":"Ni","r":"2 C","b":"d","q":425,"v":1.87},{"m":"Ni","r":"2 C","b":"d","q":435,"v":1.8},
{"m":"Ni","r":"0.2 C","b":"c","q":0,"v":1.8},{"m":"Ni","r":"0.2 C","b":"c","q":0,"v":2.24},{"m":"Ni","r":"0.2 C","b":"c","q":20,"v":2.215},{"m":"Ni","r":"0.2 C","b":"c","q":60,"v":2.2},{"m":"Ni","r":"0.2 C","b":"c","q":150,"v":2.21},{"m":"Ni","r":"0.2 C","b":"c","q":250,"v":2.23},{"m":"Ni","r":"0.2 C","b":"c","q":350,"v":2.26},{"m":"Ni","r":"0.2 C","b":"c","q":480,"v":2.3},{"m":"Ni","r":"0.2 C","b":"c","q":600,"v":2.36},{"m":"Ni","r":"0.2 C","b":"c","q":660,"v":2.395},{"m":"Ni","r":"0.2 C","b":"c","q":720,"v":2.4},{"m":"Ni","r":"0.2 C","b":"c","q":800,"v":2.41},{"m":"Ni","r":"0.2 C","b":"c","q":840,"v":2.43},{"m":"Ni","r":"0.2 C","b":"c","q":850,"v":2.5},{"m":"Ni","r":"0.2 C","b":"c","q":854,"v":2.62},{"m":"Ni","r":"0.2 C","b":"c","q":856,"v":2.8},
{"m":"Ni","r":"0.5 C","b":"c","q":0,"v":1.8},{"m":"Ni","r":"0.5 C","b":"c","q":0,"v":2.25},{"m":"Ni","r":"0.5 C","b":"c","q":20,"v":2.23},{"m":"Ni","r":"0.5 C","b":"c","q":50,"v":2.22},{"m":"Ni","r":"0.5 C","b":"c","q":120,"v":2.24},{"m":"Ni","r":"0.5 C","b":"c","q":224,"v":2.29},{"m":"Ni","r":"0.5 C","b":"c","q":350,"v":2.33},{"m":"Ni","r":"0.5 C","b":"c","q":480,"v":2.36},{"m":"Ni","r":"0.5 C","b":"c","q":580,"v":2.39},{"m":"Ni","r":"0.5 C","b":"c","q":634,"v":2.41},{"m":"Ni","r":"0.5 C","b":"c","q":660,"v":2.44},{"m":"Ni","r":"0.5 C","b":"c","q":675,"v":2.55},{"m":"Ni","r":"0.5 C","b":"c","q":682,"v":2.68},{"m":"Ni","r":"0.5 C","b":"c","q":686,"v":2.8},
{"m":"Ni","r":"1 C","b":"c","q":0,"v":1.8},{"m":"Ni","r":"1 C","b":"c","q":0,"v":2.27},{"m":"Ni","r":"1 C","b":"c","q":20,"v":2.255},{"m":"Ni","r":"1 C","b":"c","q":58,"v":2.25},{"m":"Ni","r":"1 C","b":"c","q":130,"v":2.28},{"m":"Ni","r":"1 C","b":"c","q":224,"v":2.33},{"m":"Ni","r":"1 C","b":"c","q":352,"v":2.38},{"m":"Ni","r":"1 C","b":"c","q":450,"v":2.405},{"m":"Ni","r":"1 C","b":"c","q":506,"v":2.41},{"m":"Ni","r":"1 C","b":"c","q":550,"v":2.43},{"m":"Ni","r":"1 C","b":"c","q":565,"v":2.5},{"m":"Ni","r":"1 C","b":"c","q":570,"v":2.62},{"m":"Ni","r":"1 C","b":"c","q":573,"v":2.8},
{"m":"Ni","r":"2 C","b":"c","q":0,"v":1.8},{"m":"Ni","r":"2 C","b":"c","q":0,"v":2.31},{"m":"Ni","r":"2 C","b":"c","q":20,"v":2.32},{"m":"Ni","r":"2 C","b":"c","q":58,"v":2.33},{"m":"Ni","r":"2 C","b":"c","q":147,"v":2.36},{"m":"Ni","r":"2 C","b":"c","q":224,"v":2.39},{"m":"Ni","r":"2 C","b":"c","q":301,"v":2.45},{"m":"Ni","r":"2 C","b":"c","q":360,"v":2.49},{"m":"Ni","r":"2 C","b":"c","q":390,"v":2.52},{"m":"Ni","r":"2 C","b":"c","q":415,"v":2.57},{"m":"Ni","r":"2 C","b":"c","q":430,"v":2.63},{"m":"Ni","r":"2 C","b":"c","q":438,"v":2.72},{"m":"Ni","r":"2 C","b":"c","q":442,"v":2.8}
 ],
 "gcdlab": [
{"m":"AS","r":"2 C","q":352,"v":2.15},{"m":"AS","r":"1 C","q":440,"v":2.15},{"m":"AS","r":"0.5 C","q":517,"v":2.15},{"m":"AS","r":"0.2 C","q":619,"v":2.15},
{"m":"Co","r":"2 C","q":300,"v":2.15},{"m":"Co","r":"1 C","q":408,"v":2.15},{"m":"Co","r":"0.5 C","q":508,"v":2.15},{"m":"Co","r":"0.2 C","q":614,"v":2.15},
{"m":"Ni","r":"2 C","q":406,"v":2.15},{"m":"Ni","r":"1 C","q":512,"v":2.15},{"m":"Ni","r":"0.5 C","q":617,"v":2.15},{"m":"Ni","r":"0.2 C","q":735,"v":2.15}
 ],
 "gcdarr": [
{"m":"AS","q1":689,"q2":306,"v":2.114},{"m":"Co","q1":658,"q2":275,"v":2.114},{"m":"Ni","q1":774,"q2":345,"v":2.114}
 ],
 "gcdname": [
{"m":"AS","q":731,"v":2.3,"t":"S/GaTCPP(AS)"},{"m":"Co","q":731,"v":2.3,"t":"S/GaTCPP(Co)"},{"m":"Ni","q":766,"v":2.295,"t":"S/GaTCPP(Ni)"}
 ]
},
"vconcat": [
 {"bounds": "flush", "spacing": 42, "resolve": {"scale": {"color": "independent"}, "legend": {"color": "independent"}},
  "hconcat": [
   {"width": 334, "height": 228,
    "title": {"text": "a)", "orient": "bottom", "anchor": "start", "frame": "group", "dx": -43, "offset": -16},
    "data": {"name": "cv"},
    "mark": {"type": "line", "strokeWidth": 1, "interpolate": "monotone", "clip": true},
    "encoding": {
     "x": {"field": "V", "type": "quantitative", "scale": {"domain": [1.8, 3.0], "nice": false, "zero": false},
           "axis": {"title": "Potential / V", "values": [1.8,1.9,2.0,2.1,2.2,2.3,2.4,2.5,2.6,2.7,2.8,2.9,3.0], "labelExpr": "round(datum.value*10)%2==0 ? format(datum.value,'.1f') : ''", "titlePadding": 2}},
     "y": {"field": "I", "type": "quantitative", "scale": {"domain": [-1800, 1800], "nice": false},
           "axis": {"title": "I / mA g⁻¹", "format": "d", "values": [-1500,-1000,-500,0,500,1000,1500], "titlePadding": 4}},
     "color": {"field": "m", "type": "nominal", "scale": {"domain": ["AS","Co","Ni"], "range": ["#66d433","#e8552e","#3b8fe8"]},
               "legend": {"orient": "bottom-right", "offset": 2, "title": null, "symbolType": "M-0.5,0L5.5,0", "symbolSize": 49, "symbolStrokeWidth": 1.5, "labelOffset": 16, "labelFontSize": 10, "labelColor": "#222", "strokeColor": "#555", "fillColor": "white", "padding": 4, "rowPadding": 1, "labelExpr": "'S/GaTCPP(' + datum.label + ')'"}},
     "detail": {"field": "k"}
    }
   },
   {"width": 332, "height": 228,
    "title": {"text": "b)", "orient": "bottom", "anchor": "start", "frame": "group", "dx": -30, "offset": -16},
    "resolve": {"scale": {"y": "independent"}},
    "layer": [
     {"layer": [
       {"data": {"name": "rc"},
        "mark": {"type": "point", "shape": "M-1,-1L1,1M-1,1L1,-1", "filled": false, "size": 25, "strokeWidth": 1.2, "opacity": 1},
        "encoding": {
         "x": {"field": "c", "type": "quantitative", "scale": {"domain": [0, 50], "nice": false},
               "axis": {"title": "Cycle number", "values": [0,5,10,15,20,25,30,35,40,45,50], "titlePadding": 2}},
         "y": {"field": "cap", "type": "quantitative", "scale": {"domain": [0, 1200], "nice": false},
               "axis": {"title": "Capacity / mAh g⁻¹", "format": "d", "values": [0,200,400,600,800,1000,1200], "titlePadding": 2}},
         "color": {"field": "m", "type": "nominal", "scale": {"domain": ["AS","Co","Ni"], "range": ["#66d433","#e8552e","#3b8fe8"]},
                   "legend": {"orient": "bottom-right", "offset": 2, "title": null, "symbolType": "M-1,-1L1,1M-1,1L1,-1", "symbolSize": 25, "symbolStrokeWidth": 1.2, "labelFontSize": 10, "labelColor": "#222", "strokeColor": "#555", "fillColor": "white", "padding": 4, "rowPadding": 1, "labelExpr": "'S/GaTCPP(' + datum.label + ')'"}}
        }},
       {"data": {"name": "rclab"},
        "mark": {"type": "text", "fontSize": 10, "color": "#333"},
        "encoding": {
         "x": {"field": "c", "type": "quantitative"},
         "y": {"field": "cap", "type": "quantitative"},
         "text": {"field": "t"}
        }}
     ]},
     {"layer": [
       {"data": {"name": "rc"},
        "mark": {"type": "point", "shape": "circle", "filled": false, "size": 20, "strokeWidth": 1.2, "opacity": 1},
        "encoding": {
         "x": {"field": "c", "type": "quantitative"},
         "y": {"field": "eff", "type": "quantitative", "scale": {"domain": [0, 100], "nice": false},
               "axis": {"orient": "right", "title": "Efficiency / %", "titleAngle": -90, "titleBaseline": "top", "values": [0,10,20,30,40,50,60,70,80,90,100], "titlePadding": 1}},
         "color": {"field": "m", "type": "nominal", "scale": {"domain": ["AS","Co","Ni"], "range": ["#66d433","#e8552e","#3b8fe8"]},
                   "legend": {"orient": "bottom-right", "offset": 2, "title": null, "symbolType": "M-1,-1L1,1M-1,1L1,-1", "symbolSize": 25, "symbolStrokeWidth": 1.2, "labelFontSize": 10, "labelColor": "#222", "strokeColor": "#555", "fillColor": "white", "padding": 4, "rowPadding": 1, "labelExpr": "'S/GaTCPP(' + datum.label + ')'"}}
        }},
       {"data": {"name": "rcarr"},
        "mark": {"type": "line", "color": "#333", "strokeWidth": 1},
        "encoding": {
         "x": {"field": "c", "type": "quantitative"},
         "y": {"field": "eff", "type": "quantitative"},
         "order": {"field": "i"}
        }},
       {"data": {"name": "rchead"},
        "mark": {"type": "point", "shape": "triangle-right", "filled": true, "size": 14, "color": "#333", "opacity": 1},
        "encoding": {
         "x": {"field": "c", "type": "quantitative"},
         "y": {"field": "eff", "type": "quantitative"}
        }}
     ]}
    ]
   }
  ]
 },
 {"bounds": "flush", "spacing": 16, "resolve": {"scale": {"color": "independent"}, "legend": {"color": "independent"}},
  "hconcat": [
   {"width": 226, "height": 228,
    "title": {"text": "c)", "orient": "bottom", "anchor": "start", "frame": "group", "dx": -42, "offset": -16},
    "resolve": {"axis": {"x": "independent", "y": "independent"}},
    "layer": [
     {"data": {"name": "gcd"}, "transform": [{"filter": "datum.m=='AS'"}],
      "mark": {"type": "line", "strokeWidth": 1, "clip": true},
      "encoding": {
       "x": {"field": "q", "type": "quantitative", "scale": {"domain": [0, 865], "nice": false},
             "axis": {"title": "Capacity / mAh g⁻¹", "values": [0,100,200,300,400,500,600,700,800], "labelExpr": "datum.value%200==0 ? datum.label : ''", "titlePadding": 2}},
       "y": {"field": "v", "type": "quantitative", "scale": {"domain": [1.8, 2.8], "nice": false, "zero": false},
             "axis": {"title": "Potential / V", "values": [1.8,1.9,2.0,2.1,2.2,2.3,2.4,2.5,2.6,2.7,2.8], "labelExpr": "round(datum.value*10)%2==0 ? format(datum.value,'.1f') : ''", "titlePadding": 4}},
       "color": {"field": "r", "type": "nominal", "scale": {"domain": ["2 C","1 C","0.5 C","0.2 C"], "range": ["#bdf08c","#9be462","#7ad843","#5cbf2f"]}, "legend": null},
       "detail": {"field": "b"}
      }},
     {"data": {"name": "gcdlab"}, "transform": [{"filter": "datum.m=='AS'"}],
      "mark": {"type": "text", "fontSize": 9.5},
      "encoding": {"x": {"field": "q", "type": "quantitative", "axis": null}, "y": {"field": "v", "type": "quantitative", "axis": null}, "text": {"field": "r"}, "color": {"field": "r", "type": "nominal", "legend": null}}},
     {"data": {"name": "gcdarr"}, "transform": [{"filter": "datum.m=='AS'"}],
      "mark": {"type": "rule", "color": "#9be36a", "strokeWidth": 1.8},
      "encoding": {"x": {"field": "q2", "type": "quantitative", "axis": null}, "x2": {"field": "q1"}, "y": {"field": "v", "type": "quantitative", "axis": null}}},
     {"data": {"name": "gcdarr"}, "transform": [{"filter": "datum.m=='AS'"}],
      "mark": {"type": "point", "shape": "triangle-left", "filled": true, "size": 30, "color": "#9be36a", "opacity": 1},
      "encoding": {"x": {"field": "q2", "type": "quantitative", "axis": null}, "y": {"field": "v", "type": "quantitative", "axis": null}}},
     {"data": {"name": "gcdname"}, "transform": [{"filter": "datum.m=='AS'"}],
      "mark": {"type": "text", "fontSize": 11, "color": "#86d656"},
      "encoding": {"x": {"field": "q", "type": "quantitative", "axis": {"orient": "top", "labels": false, "title": null, "domain": false, "values": [0,100,200,300,400,500,600,700,800]}}, "y": {"field": "v", "type": "quantitative", "axis": {"orient": "right", "labels": false, "title": null, "domain": false, "values": [1.8,1.9,2.0,2.1,2.2,2.3,2.4,2.5,2.6,2.7,2.8]}}, "text": {"field": "t"}}}
    ]
   },
   {"width": 226, "height": 228,
    "title": {"text": "d)", "orient": "bottom", "anchor": "start", "frame": "group", "dx": -15, "offset": -16},
    "resolve": {"axis": {"x": "independent", "y": "independent"}},
    "layer": [
     {"data": {"name": "gcd"}, "transform": [{"filter": "datum.m=='Co'"}],
      "mark": {"type": "line", "strokeWidth": 1, "clip": true},
      "encoding": {
       "x": {"field": "q", "type": "quantitative", "scale": {"domain": [0, 865], "nice": false},
             "axis": {"title": "Capacity / mAh g⁻¹", "values": [0,100,200,300,400,500,600,700,800], "labelExpr": "datum.value%200==0 ? datum.label : ''", "titlePadding": 2}},
       "y": {"field": "v", "type": "quantitative", "scale": {"domain": [1.8, 2.8], "nice": false, "zero": false},
             "axis": {"title": null, "labels": false, "values": [1.8,1.9,2.0,2.1,2.2,2.3,2.4,2.5,2.6,2.7,2.8]}},
       "color": {"field": "r", "type": "nominal", "scale": {"domain": ["2 C","1 C","0.5 C","0.2 C"], "range": ["#f2c38a","#ee9c80","#e8492a","#c96a3c"]}, "legend": null},
       "detail": {"field": "b"}
      }},
     {"data": {"name": "gcdlab"}, "transform": [{"filter": "datum.m=='Co'"}],
      "mark": {"type": "text", "fontSize": 9.5},
      "encoding": {"x": {"field": "q", "type": "quantitative", "axis": null}, "y": {"field": "v", "type": "quantitative", "axis": null}, "text": {"field": "r"}, "color": {"field": "r", "type": "nominal", "legend": null}}},
     {"data": {"name": "gcdarr"}, "transform": [{"filter": "datum.m=='Co'"}],
      "mark": {"type": "rule", "color": "#f08a70", "strokeWidth": 1.8},
      "encoding": {"x": {"field": "q2", "type": "quantitative", "axis": null}, "x2": {"field": "q1"}, "y": {"field": "v", "type": "quantitative", "axis": null}}},
     {"data": {"name": "gcdarr"}, "transform": [{"filter": "datum.m=='Co'"}],
      "mark": {"type": "point", "shape": "triangle-left", "filled": true, "size": 30, "color": "#f08a70", "opacity": 1},
      "encoding": {"x": {"field": "q2", "type": "quantitative", "axis": null}, "y": {"field": "v", "type": "quantitative", "axis": null}}},
     {"data": {"name": "gcdname"}, "transform": [{"filter": "datum.m=='Co'"}],
      "mark": {"type": "text", "fontSize": 11, "color": "#e8552e"},
      "encoding": {"x": {"field": "q", "type": "quantitative", "axis": {"orient": "top", "labels": false, "title": null, "domain": false, "values": [0,100,200,300,400,500,600,700,800]}}, "y": {"field": "v", "type": "quantitative", "axis": {"orient": "right", "labels": false, "title": null, "domain": false, "values": [1.8,1.9,2.0,2.1,2.2,2.3,2.4,2.5,2.6,2.7,2.8]}}, "text": {"field": "t"}}}
    ]
   },
   {"width": 226, "height": 228,
    "title": {"text": "e)", "orient": "bottom", "anchor": "start", "frame": "group", "dx": -16, "offset": -16},
    "resolve": {"axis": {"x": "independent", "y": "independent"}},
    "layer": [
     {"data": {"name": "gcd"}, "transform": [{"filter": "datum.m=='Ni'"}],
      "mark": {"type": "line", "strokeWidth": 1, "clip": true},
      "encoding": {
       "x": {"field": "q", "type": "quantitative", "scale": {"domain": [0, 865], "nice": false},
             "axis": {"title": "Capacity / mAh g⁻¹", "values": [0,100,200,300,400,500,600,700,800], "labelExpr": "datum.value%200==0 ? datum.label : ''", "titlePadding": 2}},
       "y": {"field": "v", "type": "quantitative", "scale": {"domain": [1.8, 2.8], "nice": false, "zero": false},
             "axis": {"title": null, "labels": false, "values": [1.8,1.9,2.0,2.1,2.2,2.3,2.4,2.5,2.6,2.7,2.8]}},
       "color": {"field": "r", "type": "nominal", "scale": {"domain": ["2 C","1 C","0.5 C","0.2 C"], "range": ["#92caf2","#5eabef","#3a8de3","#2a5ec6"]}, "legend": null},
       "detail": {"field": "b"}
      }},
     {"data": {"name": "gcdlab"}, "transform": [{"filter": "datum.m=='Ni'"}],
      "mark": {"type": "text", "fontSize": 9.5},
      "encoding": {"x": {"field": "q", "type": "quantitative", "axis": null}, "y": {"field": "v", "type": "quantitative", "axis": null}, "text": {"field": "r"}, "color": {"field": "r", "type": "nominal", "legend": null}}},
     {"data": {"name": "gcdarr"}, "transform": [{"filter": "datum.m=='Ni'"}],
      "mark": {"type": "rule", "color": "#7ab8f0", "strokeWidth": 1.8},
      "encoding": {"x": {"field": "q2", "type": "quantitative", "axis": null}, "x2": {"field": "q1"}, "y": {"field": "v", "type": "quantitative", "axis": null}}},
     {"data": {"name": "gcdarr"}, "transform": [{"filter": "datum.m=='Ni'"}],
      "mark": {"type": "point", "shape": "triangle-left", "filled": true, "size": 30, "color": "#7ab8f0", "opacity": 1},
      "encoding": {"x": {"field": "q2", "type": "quantitative", "axis": null}, "y": {"field": "v", "type": "quantitative", "axis": null}}},
     {"data": {"name": "gcdname"}, "transform": [{"filter": "datum.m=='Ni'"}],
      "mark": {"type": "text", "fontSize": 11, "color": "#5aa0e8"},
      "encoding": {"x": {"field": "q", "type": "quantitative", "axis": {"orient": "top", "labels": false, "title": null, "domain": false, "values": [0,100,200,300,400,500,600,700,800]}}, "y": {"field": "v", "type": "quantitative", "axis": {"orient": "right", "labels": false, "title": null, "domain": false, "values": [1.8,1.9,2.0,2.1,2.2,2.3,2.4,2.5,2.6,2.7,2.8]}}, "text": {"field": "t"}}}
    ]
   }
  ]
 }
]
}
